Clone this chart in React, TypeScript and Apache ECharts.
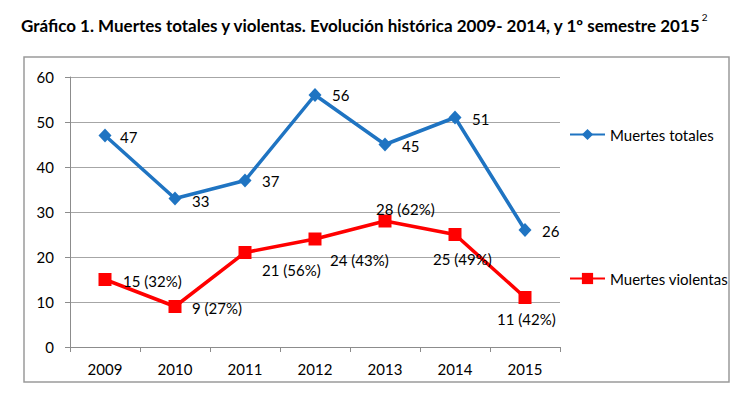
import React, { useEffect, useRef } from "react";
import * as echarts from "echarts";

const years = ["2009", "2010", "2011", "2012", "2013", "2014", "2015"];
const totalDeaths = [47, 33, 37, 56, 45, 51, 26];
const violentDeaths = [15, 9, 21, 24, 28, 25, 11];
const violentPct = [32, 27, 56, 43, 62, 49, 42];
const yTicks = { min: 0, max: 60, interval: 10 };

const titleText = "Gráfico 1. Muertes totales y violentas. Evolución histórica 2009- 2014, y 1º semestre 2015";
const titleSup = "2";
const seriesNames = ["Muertes totales", "Muertes violentas"];

// label placement (offset of label left edge / vertical centre from point)
const totalLabelOffsets: [number, number][] = [
  [15, 1], [17, 2], [17, 0], [17, 0], [17, 1], [17, 1], [17, 1],
];
const violentLabelOffsets: [number, number][] = [
  [18, 1.5], [17, 1.5], [17, 17.5], [15, 21], [-9, -12], [-22, 24.5], [-28, 21],
];

const FONT = "Lato";
const BLUE = "#1F74C2";
const RED = "#FF0000";

export default function App() {
  const ref = useRef<HTMLDivElement>(null);
  useEffect(() => {
    if (!ref.current) return;
    const chart = echarts.init(ref.current, undefined, { renderer: "svg" });
    const labelBase = {
      show: true,
      position: "inside" as const,
      align: "left" as const,
      verticalAlign: "middle" as const,
      color: "#000",
      fontSize: 15,
      fontFamily: FONT,
    };
    chart.setOption({
      animation: false,
      backgroundColor: "#fff",
      textStyle: { fontFamily: FONT },
      graphic: [
        {
          type: "rect",
          shape: { x: 24, y: 57, width: 705, height: 325 },
          style: { fill: "none", stroke: "#9a9a9a", lineWidth: 1.5 },
          z: 0,
        },
        {
          type: "text",
          left: 21,
          top: 12,
          style: {
            text: `{a|${titleText}}{s|${titleSup}}`,
            rich: {
              a: { fontSize: 17, fontWeight: "bold", fontFamily: FONT, fill: "#000", lineHeight: 22, verticalAlign: "bottom" },
              s: { fontSize: 10, fontFamily: FONT, fill: "#000", lineHeight: 22, verticalAlign: "top" },
            },
          },
        },
      ],
      grid: { left: 70, right: 194, top: 77, bottom: 63, containLabel: false },
      legend: [
        {
          data: [seriesNames[0]],
          left: 564,
          top: 122,
          itemWidth: 35,
          itemHeight: 14,
          textStyle: { fontSize: 15, color: "#000", fontFamily: FONT },
        },
        {
          data: [seriesNames[1]],
          left: 564,
          top: 266,
          itemWidth: 35,
          itemHeight: 14,
          textStyle: { fontSize: 15, color: "#000", fontFamily: FONT },
        },
      ],
      xAxis: {
        type: "category",
        data: years,
        boundaryGap: true,
        axisLine: { show: true, lineStyle: { color: "#8c8c8c", width: 1 } },
        axisTick: { show: true, length: 5, inside: false, interval: 0, lineStyle: { color: "#8c8c8c" } },
        axisLabel: { color: "#000", fontSize: 15, fontFamily: FONT, margin: 14 },
        splitLine: { show: false },
      },
      yAxis: {
        type: "value",
        min: yTicks.min,
        max: yTicks.max,
        interval: yTicks.interval,
        axisLine: { show: true, lineStyle: { color: "#8c8c8c", width: 1 } },
        axisTick: { show: true, length: 5, inside: false, lineStyle: { color: "#8c8c8c" } },
        axisLabel: { color: "#000", fontSize: 15, fontFamily: FONT, margin: 16 },
        splitLine: { show: true, lineStyle: { color: "#a6a6a6", width: 1 } },
      },
      series: [
        {
          name: seriesNames[0],
          type: "line",
          data: totalDeaths.map((v, i) => ({
            value: v,
            label: { ...labelBase, offset: totalLabelOffsets[i], formatter: String(v) },
          })),
          symbol: "diamond",
          symbolSize: [13, 14],
          itemStyle: { color: BLUE },
          lineStyle: { color: BLUE, width: 3.5 },
          z: 3,
        },
        {
          name: seriesNames[1],
          type: "line",
          data: violentDeaths.map((v, i) => ({
            value: v,
            label: { ...labelBase, offset: violentLabelOffsets[i], formatter: `${v} (${violentPct[i]}%)` },
          })),
          symbol: "rect",
          symbolSize: 13,
          itemStyle: { color: RED },
          lineStyle: { color: RED, width: 3.5 },
          z: 3,
        },
      ],
    });
    return () => chart.dispose();
  }, []);
  return (
    <div
      ref={ref}
      style={{ position: "fixed", left: 0, top: 0, width: 754, height: 410 }}
    />
  );
}
